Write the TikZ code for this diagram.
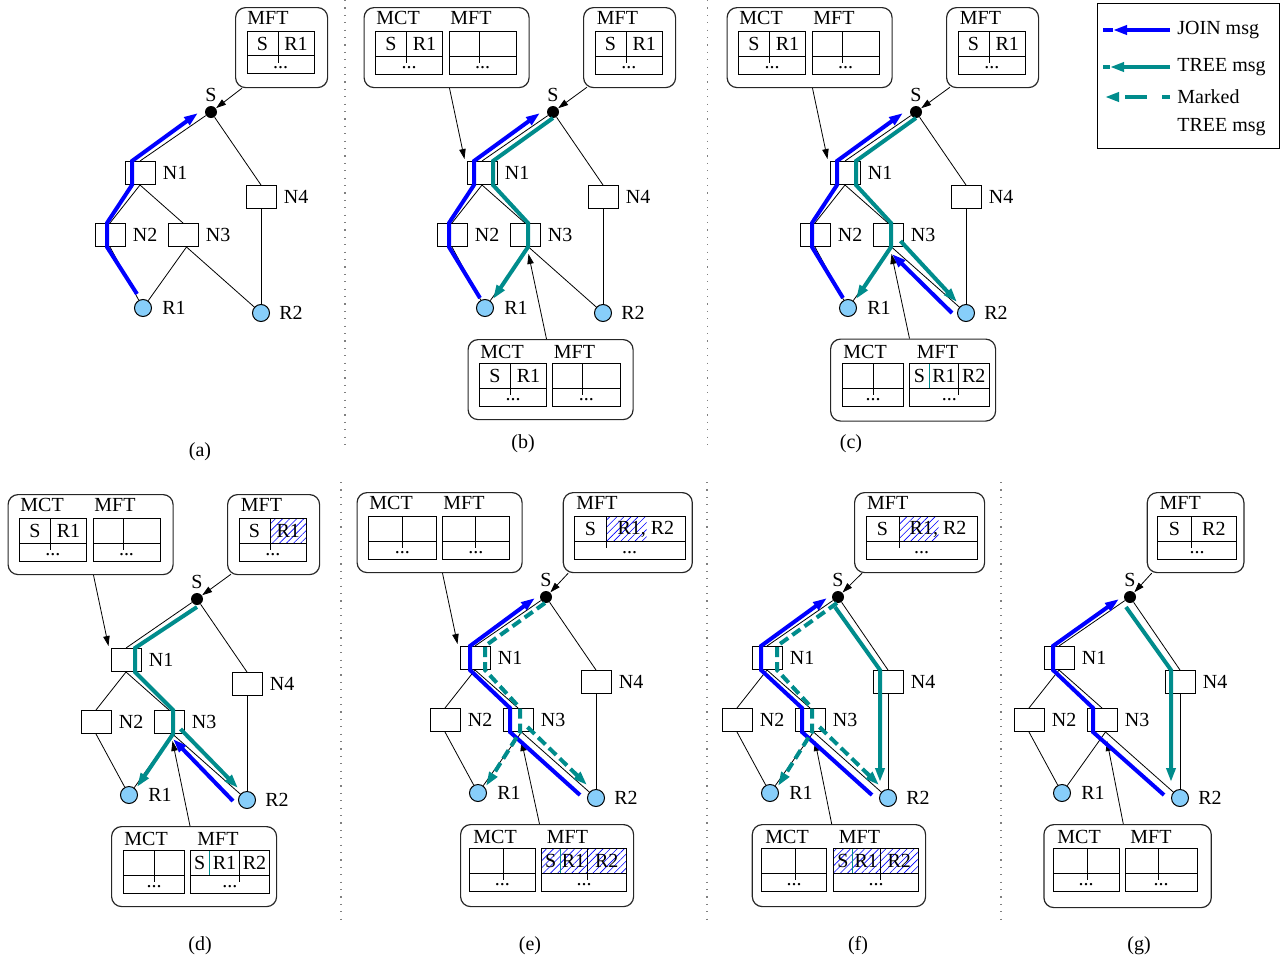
\documentclass[tikz,border=0pt]{standalone}
\usepackage{fontspec}
\setmainfont{Liberation Serif}
\usetikzlibrary{positioning, calc, arrows.meta, patterns.meta}

\definecolor{blau}{RGB}{0,0,255}
\definecolor{tuerkis}{RGB}{0,140,140}
\definecolor{hellblau}{RGB}{135,206,250}

% Netz mit S, N1 bis N4, R1, R2
\newcommand{\netz}[1]{%
  \node[knoten] (#1N1) at (140,173) {};
  \node[knoten] (#1N2) at (110,235) {};
  \node[knoten] (#1N3) at (183,235) {};
  \node[knoten] (#1N4) at (261,197) {};
  \node[quelle] (#1S) at (211,112) {};
  \node[empf] (#1R1) at (143,308) {};
  \node[empf] (#1R2) at (261,313) {};
  \node[beschr, above=1.5pt of #1S] (#1Sl) {S};
  \node[beschr, right=3pt of #1N1] (#1N1l) {N1};
  \node[beschr, right=3pt of #1N2] (#1N2l) {N2};
  \node[beschr, right=3pt of #1N3] (#1N3l) {N3};
  \node[beschr, right=3pt of #1N4] (#1N4l) {N4};
  \node[beschr, right=4.5pt of #1R1] (#1R1l) {R1};
  \node[beschr, right=4pt of #1R2] (#1R2l) {R2};
  \coordinate (#1N3f) at ($(#1N3.south)+(3.5,0)$);
  \draw[link] (#1S) -- (#1N1.north);
  \draw[link] (#1S) -- (#1N4.north);
  \draw[link] (#1N1.south) -- (#1N2.north);
  \draw[link] (#1N1.south) -- (#1N3.north);
  \draw[link] (#1N2.south) -- (#1R1);
  \draw[link] (#1N3f) -- (#1R1);
  \draw[link] (#1N3f) -- (#1R2);
  \draw[link] (#1N4.south) -- (#1R2);
}

% Tabelle mit zwei Spalten
\newcommand{\tabelle}[7]{%
  \draw[tab] ({#2},{#3}) rectangle ++(#4,42.5);
  \draw[tab] ({#2},{#3+24.5}) -- ++(#4,0);
  \draw[tab] ({#2+#5},{#3}) -- ++(0,31.5);
  \node[eintrag] (#1a) at ({#2+#5/2},{#3+12.5}) {#6};
  \node[eintrag] (#1b) at ({#2+(#4+#5)/2},{#3+12.5}) {#7};
  \node[eintrag] (#1c) at ({#2+#4/2},{#3+36.5}) {...};
}

% Tabelle S | R1 | R2
\newcommand{\tabelledrei}[6]{%
  \draw[tab] ({#2},{#3}) rectangle ++(#4,42.5);
  \draw[tab] ({#2},{#3+24.5}) -- ++(#4,0);
  \draw[tab, tuerkis] ({#2+#5},{#3}) -- ++(0,24.5);
  \draw[tab] ({#2+#6},{#3}) -- ++(0,31.5);
  \node[eintrag] (#1a) at ({#2+#5/2},{#3+12.5}) {S};
  \node[eintrag] (#1b) at ({#2+(#5+#6)/2},{#3+12.5}) {R1};
  \node[eintrag] (#1c) at ({#2+(#4+#6)/2},{#3+12.5}) {R2};
  \node[eintrag] (#1d) at ({#2+#4/2},{#3+36.5}) {...};
}

\begin{document}
\begin{tikzpicture}[x=0.5pt, y=-0.5pt, font=\fontsize{10}{12}\selectfont,
    knoten/.style={rectangle, draw, fill=white, line width=0.5pt, minimum width=15pt, minimum height=11.5pt, inner sep=0pt},
    quelle/.style={circle, fill=black, minimum size=6pt, inner sep=0pt},
    empf/.style={circle, draw, fill=hellblau, line width=0.5pt, minimum size=8.5pt, inner sep=0pt},
    beschr/.style={inner sep=0.5pt},
    link/.style={line width=0.4pt},
    kasten/.style={draw=black!85, line width=0.6pt, rounded corners=5pt, anchor=north west, minimum height=40pt, inner sep=0pt},
    kopf/.style={anchor=west, inner sep=0pt},
    tab/.style={line width=0.5pt},
    eintrag/.style={inner sep=0pt},
    zeiger/.style={line width=0.4pt, -{Triangle[length=5pt, width=3.2pt]}},
    joinmsg/.style={blau, line width=2pt, -{Triangle[length=7pt, width=4.5pt]}},
    treemsg/.style={tuerkis, line width=2pt, -{Triangle[length=7pt, width=4.5pt]}},
    markedmsg/.style={treemsg, dash pattern=on 5pt off 2.5pt},
    schraffur/.style={pattern={Lines[angle=45, distance=2.5pt, line width=0.3pt]}, pattern color=blau},
    trenn/.style={gray, line width=0.6pt, dash pattern=on 0.6pt off 3.1pt},
    legende/.style={draw, line width=0.6pt, anchor=north west, inner sep=0pt},
    legtext/.style={kopf}]

  \useasboundingbox (0,0) rectangle (1281,964);

  % Bild (a)
  \begin{scope}
    \netz{a}
    \node[kasten, minimum width=46pt] (aKr) at (235,7) {};
    \node[kopf] (aKrh) at (247,18) {MFT};
    \tabelle{aTr}{247}{31}{67}{31}{S}{R1}
    \draw[zeiger] ($(aKr.south west)+(7,0)$) -- (aS);
    \draw[joinmsg] ($(aR1)+(-6,-14)$) -- ($(aN2.south)+(-3,0)$) -- ($(aN2.north)+(-3,0)$) -- ($(aN1.south)+(-8,0)$) -- ($(aN1.north)+(-8,0)$) -- ($(aS)+(-13,1)$);
  \end{scope}

  % Bild (b)
  \begin{scope}[shift={(342,0)}]
    \netz{b}
    \node[kasten, minimum width=82.5pt] (bKl) at (21.5,7) {};
    \node[kopf] (bKlh1) at (34,18) {MCT};
    \node[kopf] (bKlh2) at (108,18) {MFT};
    \tabelle{bTl1}{33.5}{31.5}{67}{31}{S}{R1}
    \tabelle{bTl2}{107}{31.5}{67}{30}{}{}
    \node[kasten, minimum width=46pt] (bKr) at (241,7) {};
    \node[kopf] (bKrh) at (254.5,18) {MFT};
    \tabelle{bTr}{253}{31.5}{67.5}{31}{S}{R1}
    \node[kasten, minimum width=82.5pt] (bKu) at (125.5,339) {};
    \node[kopf] (bKuh1) at (138,351.5) {MCT};
    \node[kopf] (bKuh2) at (211.5,351.5) {MFT};
    \tabelle{bTu1}{137.5}{363.5}{67}{31}{S}{R1}
    \tabelle{bTu2}{210.5}{363.5}{67.5}{30}{}{}
    \draw[zeiger] ($(bKl.south west)+(86,0)$) -- ($(bN1.north west)+(-2,-2)$);
    \draw[zeiger] ($(bKr.south west)+(4,-1)$) -- (bS);
    \draw[zeiger] ($(bKu.north west)+(79,0)$) -- ($(bN3.south)+(3.5,7)$);
    \draw[joinmsg] ($(bR1)+(-5,-10)$) -- ($(bN2.south)+(-3,0)$) -- ($(bN2.north)+(-3,0)$) -- ($(bN1.south)+(-8,0)$) -- ($(bN1.north)+(-8,0)$) -- ($(bS)+(-13,1)$);
    \draw[treemsg] ($(bS)+(0,6)$) -- ($(bN1.north)+(11,0)$) -- ($(bN1.south)+(11,0)$) -- ($(bN3.north)+(3,0)$) -- ($(bN3.south)+(3,0)$) -- ($(bR1)+(8,-9)$);
  \end{scope}

  % Bild (c)
  \begin{scope}[shift={(705,0)}]
    \netz{c}
    \node[kasten, minimum width=82.5pt] (cKl) at (21.5,7) {};
    \node[kopf] (cKlh1) at (34,18) {MCT};
    \node[kopf] (cKlh2) at (108,18) {MFT};
    \tabelle{cTl1}{33.5}{31.5}{67}{31}{S}{R1}
    \tabelle{cTl2}{107}{31.5}{67}{30}{}{}
    \node[kasten, minimum width=46pt] (cKr) at (241,7) {};
    \node[kopf] (cKrh) at (254.5,18) {MFT};
    \tabelle{cTr}{253}{31.5}{67.5}{31}{S}{R1}
    \node[kasten, minimum width=82.5pt, minimum height=41pt] (cKu) at (125,338.5) {};
    \node[kopf] (cKuh1) at (138,351.5) {MCT};
    \node[kopf] (cKuh2) at (211.5,351.5) {MFT};
    \tabelle{cTu1}{137.5}{363.5}{61}{30.5}{}{}
    \tabelledrei{cTu2}{204.5}{363.5}{79.5}{20}{49}
    \draw[zeiger] ($(cKl.south west)+(86,0)$) -- ($(cN1.north west)+(-2,-2)$);
    \draw[zeiger] ($(cKr.south west)+(4,-1)$) -- (cS);
    \draw[zeiger] ($(cKu.north west)+(79.5,0)$) -- ($(cN3.south)+(3.5,7)$);
    \draw[joinmsg] ($(cR1)+(-5,-10)$) -- ($(cN2.south)+(-3,0)$) -- ($(cN2.north)+(-3,0)$) -- ($(cN1.south)+(-8,0)$) -- ($(cN1.north)+(-8,0)$) -- ($(cS)+(-13,1)$);
    \draw[treemsg] ($(cS)+(0,6)$) -- ($(cN1.north)+(11,0)$) -- ($(cN1.south)+(11,0)$) -- ($(cN3.north)+(3,0)$) -- ($(cN3.south)+(3,0)$) -- ($(cR1)+(8,-9)$);
    \draw[joinmsg] ($(cR2)+(-14,0)$) -- ($(cN3.south)+(4,7)$);
    \draw[treemsg] ($(cN3.south east)+(-3,-6)$) -- ($(cR2)+(-9,-11)$);
  \end{scope}

  % Bild (d)
  \begin{scope}[shift={(-14,487)}]
    \netz{d}
    \node[kasten, minimum width=82.5pt] (dKl) at (21.5,7) {};
    \node[kopf] (dKlh1) at (34,18) {MCT};
    \node[kopf] (dKlh2) at (108,18) {MFT};
    \tabelle{dTl1}{33.5}{31.5}{67}{31}{S}{R1}
    \tabelle{dTl2}{107}{31.5}{67}{30}{}{}
    \node[kasten, minimum width=46pt] (dKr) at (241,7) {};
    \node[kopf] (dKrh) at (254.5,18) {MFT};
    \fill[schraffur] (284,31.5) rectangle (320.5,56);
    \tabelle{dTr}{253}{31.5}{67.5}{31}{S}{R1}
    \node[kasten, minimum width=82.5pt] (dKu) at (125,339) {};
    \node[kopf] (dKuh1) at (138,351.5) {MCT};
    \node[kopf] (dKuh2) at (211,351.5) {MFT};
    \tabelle{dTu1}{137.5}{363.5}{61}{30.5}{}{}
    \tabelledrei{dTu2}{204}{363.5}{79.5}{19.5}{49.5}
    \draw[zeiger] ($(dKl.south west)+(86,0)$) -- ($(dN1.north west)+(-2,-2)$);
    \draw[zeiger] ($(dKr.south west)+(4,-1)$) -- (dS);
    \draw[zeiger] ($(dKu.north west)+(79,0)$) -- ($(dN3.south)+(3.5,7)$);
    \draw[treemsg] ($(dS)+(0,8)$) -- ($(dN1.north)+(9,0)$) -- ($(dN1.south)+(9,0)$) -- ($(dN3.north)+(4,0)$) -- ($(dN3.south)+(4,0)$) -- ($(dR1)+(8,-8)$);
    \draw[joinmsg] ($(dR2)+(-14,1)$) -- ($(dN3.south)+(4,5)$);
    \draw[treemsg] ($(dN3.south east)+(-4,-5)$) -- ($(dR2)+(-9,-12)$);
  \end{scope}

  % Bild (e)
  \begin{scope}[shift={(335,485)}]
    \netz{e}
    \node[kasten, minimum width=82.5pt] (eKl) at (21.5,7) {};
    \node[kopf] (eKlh1) at (34,18) {MCT};
    \node[kopf] (eKlh2) at (108,18) {MFT};
    \tabelle{eTl1}{33.5}{31.5}{67.5}{33.5}{}{}
    \tabelle{eTl2}{107}{31.5}{67.5}{33.5}{}{}
    \node[kasten, minimum width=64.5pt] (eKr) at (227.7,7) {};
    \node[kopf] (eKrh) at (241,18) {MFT};
    \fill[schraffur] (271.7,31.5) rectangle (311.7,56);
    \tabelle{eTr}{239}{31.5}{111}{32.7}{S}{R1, R2}
    \node[kasten, minimum width=86.5pt, minimum height=41pt] (eKu) at (125,339) {};
    \node[kopf] (eKuh1) at (138,351.5) {MCT};
    \node[kopf] (eKuh2) at (211.5,351.5) {MFT};
    \tabelle{eTu1}{134.5}{363.5}{65.5}{33.5}{}{}
    \fill[schraffur] (206.5,363.5) rectangle (291.5,388);
    \tabelledrei{eTu2}{206.5}{363.5}{85}{18.5}{45.5}
    \draw[zeiger] ($(eKl.south west)+(86,0)$) -- ($(eN1.north west)+(-2,-2)$);
    \draw[zeiger] ($(eKr.south west)+(5.5,0)$) -- (eS);
    \draw[zeiger] ($(eKu.north west)+(79.5,0)$) -- ($(eN3.south)+(3.5,9)$);
    \draw[joinmsg] ($(eR2)+(-16,-3)$) -- ($(eN3.south)+(-8,0)$) -- ($(eN3.north)+(-8,0)$) -- ($(eN1.south)+(-5,0)$) -- ($(eN1.north)+(-5,0)$) -- ($(eS)+(-11,1)$);
    \draw[markedmsg] ($(eS)+(-1,6)$) -- ($(eN1.north)+(10,0)$) -- ($(eN1.south)+(10,0)$) -- ($(eN3.north)+(2,0)$) -- ($(eN3.south)+(2,0)$) -- ($(eR1)+(8,-7)$);
    \draw[markedmsg] ($(eN3.south east)+(-6,-5)$) -- ($(eR2)+(-9,-13)$);
  \end{scope}

  % Bild (f)
  \begin{scope}[shift={(627,485)}]
    \netz{f}
    \node[kasten, minimum width=65pt] (fKr) at (227,7) {};
    \node[kopf] (fKrh) at (239.7,18) {MFT};
    \fill[schraffur] (272,31.5) rectangle (311.5,56);
    \tabelle{fTr}{239}{31.5}{111}{33}{S}{R1, R2}
    \node[kasten, minimum width=86.65pt, minimum height=41pt] (fKu) at (124.7,339) {};
    \node[kopf] (fKuh1) at (138,351.5) {MCT};
    \node[kopf] (fKuh2) at (211.5,351.5) {MFT};
    \tabelle{fTu1}{134.5}{363.5}{65}{34}{}{}
    \fill[schraffur] (206.5,363.5) rectangle (291.5,388);
    \tabelledrei{fTu2}{206.5}{363.5}{85}{19}{46.5}
    \draw[zeiger] ($(fKr.south west)+(8,0)$) -- (fS);
    \draw[zeiger] ($(fKu.north west)+(80,0)$) -- ($(fN3.south)+(5,9)$);
    \draw[joinmsg] ($(fR2)+(-16,-3)$) -- ($(fN3.south)+(-8,0)$) -- ($(fN3.north)+(-8,0)$) -- ($(fN1.south)+(-6,0)$) -- ($(fN1.north)+(-6,0)$) -- ($(fS)+(-11,1)$);
    \draw[markedmsg] ($(fS)+(-1,6)$) -- ($(fN1.north)+(10,0)$) -- ($(fN1.south)+(10,0)$) -- ($(fN3.north)+(2,0)$) -- ($(fN3.south)+(2,0)$) -- ($(fR1)+(8,-7)$);
    \draw[markedmsg] ($(fN3.south east)+(-6,-5)$) -- ($(fR2)+(-9,-13)$);
    \draw[treemsg] ($(fS)+(-3,10)$) -- ($(fN4.north)+(-8,0)$) -- ($(fR2)+(-8,-16)$);
  \end{scope}

  % Bild (g)
  \begin{scope}[shift={(919,485)}]
    \netz{g}
    \node[kasten, minimum width=48.3pt] (gKr) at (227.7,7) {};
    \node[kopf] (gKrh) at (240.3,18) {MFT};
    \tabelle{gTr}{238.7}{31.5}{79}{33.3}{S}{R2}
    \node[kasten, minimum width=83.7pt, minimum height=41.5pt] (gKu) at (124.3,339) {};
    \node[kopf] (gKuh1) at (138,351.5) {MCT};
    \node[kopf] (gKuh2) at (211,351.5) {MFT};
    \tabelle{gTu1}{134.3}{363.5}{65.7}{34}{}{}
    \tabelle{gTu2}{206}{363.5}{72.3}{33.3}{}{}
    \draw[zeiger] ($(gKr.south west)+(5,0)$) -- (gS);
    \draw[zeiger] ($(gKu.north west)+(80,0)$) -- ($(gN3.south)+(5,9)$);
    \draw[joinmsg] ($(gR2)+(-16,-3)$) -- ($(gN3.south)+(-9,0)$) -- ($(gN3.north)+(-9,0)$) -- ($(gN1.south)+(-6,0)$) -- ($(gN1.north)+(-6,0)$) -- ($(gS)+(-11,2)$);
    \draw[treemsg] ($(gS)+(-4,10)$) -- ($(gN4.north)+(-9,0)$) -- ($(gR2)+(-9,-16)$);
  \end{scope}

  % Trennlinien
  \draw[trenn] (345,0) -- (345,445);
  \draw[trenn] (707.5,0) -- (707.5,445);
  \draw[trenn] (341,482) -- (341,923);
  \draw[trenn] (707,482) -- (707,923);
  \draw[trenn] (1001,482) -- (1001,923);

  % Unterschriften
  \node (la) at (200,452) {(a)};
  \node (lb) at (523,444) {(b)};
  \node (lc) at (851,444) {(c)};
  \node (ld) at (200,946) {(d)};
  \node (le) at (530,946) {(e)};
  \node (lf) at (858,946) {(f)};
  \node (lg) at (1139,946) {(g)};

  % Legende
  \node[legende, minimum width=91pt, minimum height=72.5pt] (leg) at (1097,3) {};
  \node[legtext] (legJ) at (1177,30) {JOIN msg};
  \node[legtext] (legT) at (1177,67) {TREE msg};
  \node[legtext] (legM) at (1177,97) {Marked};
  \node[legtext] (legM2) at (1177,127) {TREE msg};
  \draw[joinmsg] ($(legJ.west)+(-7,0)$) -- ($(legJ.west)+(-64,0)$);
  \draw[blau, line width=2pt] ($(legJ.west)+(-64,0)$) -- ($(legJ.west)+(-74,0)$);
  \draw[treemsg] ($(legT.west)+(-7,0)$) -- ($(legT.west)+(-67,0)$);
  \draw[tuerkis, line width=2pt] ($(legT.west)+(-67,0)$) -- ($(legT.west)+(-74,0)$);
  \draw[markedmsg, dash pattern=on 11pt off 7.5pt, dash phase=6.8pt] ($(legM.west)+(-7,0)$) -- ($(legM.west)+(-72,0)$);

\end{tikzpicture}
\end{document}
